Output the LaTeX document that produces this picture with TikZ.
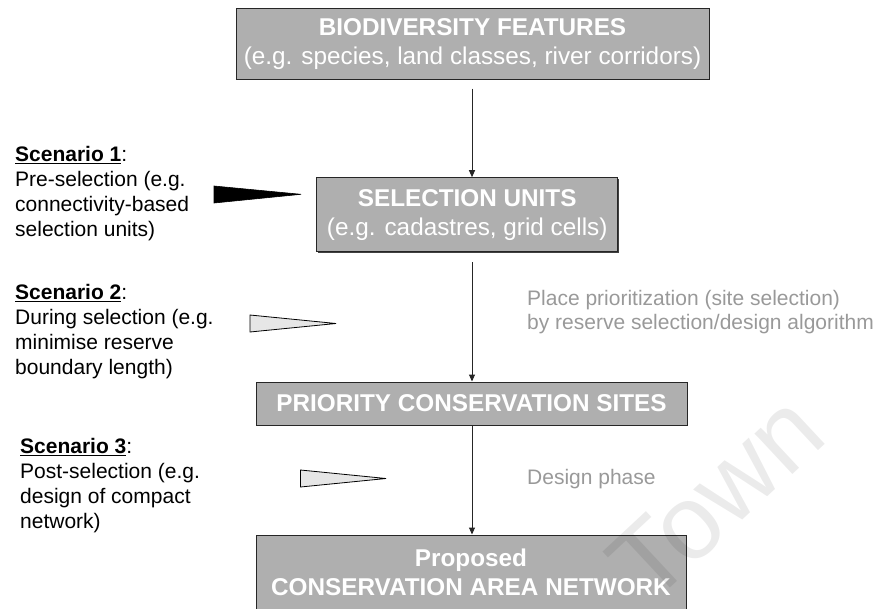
\documentclass[tikz,border=0pt]{standalone}
\usepackage{fontspec}
\setmainfont{Liberation Sans}
\usetikzlibrary{arrows.meta,shadows}
\definecolor{boxgrey}{HTML}{AFAFAF}
\definecolor{notegrey}{HTML}{999999}
\definecolor{wedgegrey}{HTML}{E6E6E6}
\begin{document}
\begin{tikzpicture}[x=1pt,y=-1pt,
  stagebox/.style={draw=black!85, line width=1pt, fill=boxgrey, text=white,
    align=center, inner sep=0pt,
    drop shadow={shadow xshift=1.2pt, shadow yshift=-1.2pt, fill=black!75, opacity=1},
    font=\fontsize{24.3}{29}\selectfont},
  flow/.style={draw=black!85, line width=1pt, -{Triangle[width=6pt,length=7pt]}},
  scenario/.style={anchor=north west, inner sep=0pt, align=left, text=black,
    font=\fontsize{21}{25}\selectfont},
  note/.style={anchor=north west, inner sep=0pt, align=left, text=notegrey,
    font=\fontsize{21}{24.5}\selectfont},
  solidwedge/.style={fill=black, draw=black, line width=0.6pt, line join=miter},
  hollowwedge/.style={fill=wedgegrey, draw=black, line width=0.8pt, line join=miter}]
\useasboundingbox (0,0) rectangle (881,608);

% main chain of stages
\node[stagebox, minimum width=473pt, minimum height=71pt] (bio) at (472.5,43.7)
  {\textbf{BIODIVERSITY FEATURES}\\(e.g. species, land classes, river corridors)};
\node[stagebox, minimum width=301pt, minimum height=74pt] (units) at (467.2,214.7)
  {\textbf{SELECTION UNITS}\\(e.g. cadastres, grid cells)};
\node[stagebox, minimum width=431pt, minimum height=43pt] (sites) at (471.5,403.5)
  {\textbf{PRIORITY CONSERVATION SITES}};
\node[stagebox, minimum width=430pt, minimum height=74pt] (network) at (471,572)
  {\textbf{Proposed}\\\textbf{CONSERVATION AREA NETWORK}};

% flow axis
\coordinate (axis) at (472,0);
\draw[flow, shorten <=9pt] (bio.south -| axis) -- (units.north -| axis);
\draw[flow, shorten <=10pt] (units.south -| axis) -- (sites.north -| axis);
\draw[flow] (sites.south -| axis) -- (network.north -| axis);

% notes beside the flow
\node[note] (placenote) at (527,290)
  {Place prioritization (site selection)\\by reserve selection/design algorithm};
\node[note, anchor=west] (designnote) at (527,479) {Design phase};

% scenarios
\node[scenario] (sc1) at (15,146.2)
  {\underline{\textbf{Scenario 1}}:\\Pre-selection (e.g.\\connectivity-based\\selection units)};
\node[scenario] (sc2) at (15,283.8)
  {\underline{\textbf{Scenario 2}}:\\During selection (e.g.\\minimise reserve\\boundary length)};
\node[scenario] (sc3) at (20,437.8)
  {\underline{\textbf{Scenario 3}}:\\Post-selection (e.g.\\design of compact\\network)};

% wedges marking when each scenario acts
\draw[solidwedge] (214,186) -- (301,194.3) -- (214,203) -- cycle;
\draw[hollowwedge] (250,315) -- (336,323.5) -- (250,332) -- cycle;
\draw[hollowwedge] (300.5,470) -- (386,478.5) -- (300.5,487) -- cycle;

% faint watermark
\node[rotate=43, text=black, opacity=0.08, inner sep=0pt,
  font=\fontsize{105}{105}\selectfont] (mark) at (716,497) {Town};
\end{tikzpicture}
\end{document}
